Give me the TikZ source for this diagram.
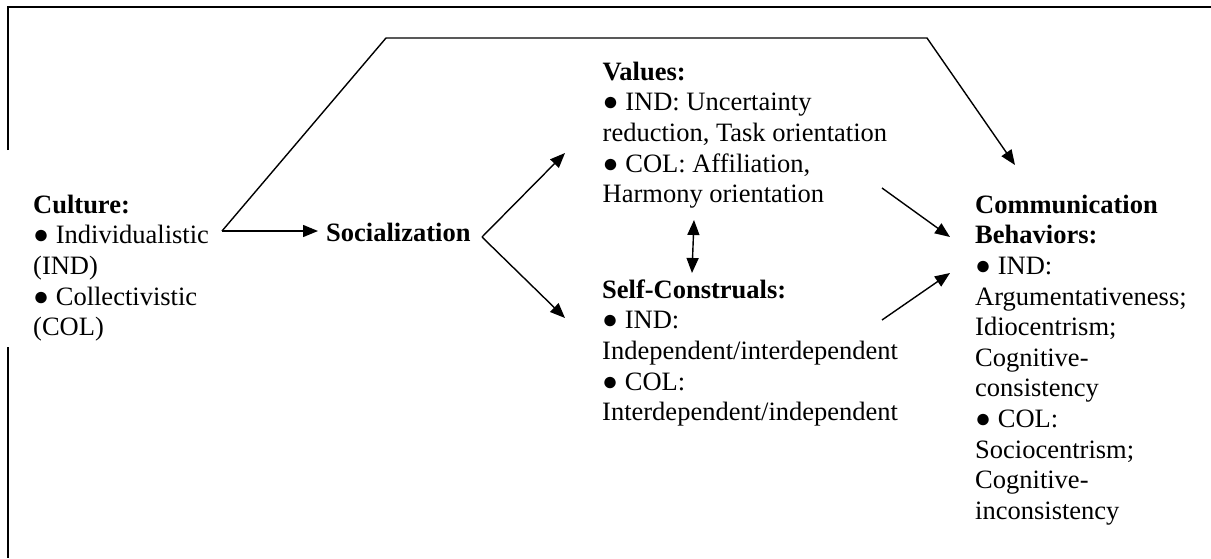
\documentclass[tikz,border=0pt]{standalone}
\usepackage{fontspec}
\setmainfont{Liberation Serif}
\usetikzlibrary{arrows.meta}
\begin{document}
\begin{tikzpicture}[x=1pt,y=-1pt,
  txt/.style={anchor=north west, inner sep=0pt, align=left, font=\fontsize{26.5}{30.6}\selectfont},
  arr/.style={line width=1.4pt, -{Triangle[length=15pt,width=12pt]}},
  dblarr/.style={line width=1.4pt, {Triangle[length=15pt,width=12pt]}-{Triangle[length=15pt,width=12pt]}},
  frameline/.style={line width=2pt}]
\useasboundingbox (0,0) rectangle (1211,558);
% frame
\draw[frameline] (8,150) -- (8,7) -- (1211,7);
\draw[frameline] (8,347) -- (8,558);
% text blocks
\node[txt] (culture) at (33,191.58) {\strut\textbf{Culture:}\\● Individualistic\\(IND)\\● Collectivistic\\(COL)};
\node[txt, anchor=base west] (soc) at (326,241) {\textbf{Socialization}};
\node[txt] (values) at (602.5,58.58) {\strut\textbf{Values:}\\● IND: Uncertainty\\reduction, Task orientation\\● COL: Affiliation,\\Harmony orientation};
\node[txt] (self) at (602,276.58) {\strut\textbf{Self-Construals:}\\● IND:\\Independent/interdependent\\● COL:\\Interdependent/independent};
\node[txt] (comm) at (975,191.58) {\strut\textbf{Communication}\\\textbf{Behaviors:}\\● IND:\\Argumentativeness;\\Idiocentrism;\\Cognitive-\\consistency\\● COL:\\Sociocentrism;\\Cognitive-\\inconsistency};
% connector end points
\coordinate (cultureOut) at (222,231);
\coordinate (socIn) at (318,231);
\coordinate (bendA) at (386,38);
\coordinate (bendB) at (927,38);
\coordinate (commTop) at (1015,165);
\coordinate (socOut) at (482,237);
\coordinate (valuesIn) at (565,153);
\coordinate (selfIn) at (565,318);
\coordinate (valuesBot) at (694,220);
\coordinate (selfTop) at (692,273);
\coordinate (valuesOut) at (882,188);
\coordinate (commIn1) at (950,237);
\coordinate (selfOut) at (882,320);
\coordinate (commIn2) at (950,273);
% connectors
\draw[arr] (cultureOut) -- (socIn);
\draw[arr] (cultureOut) -- (bendA) -- (bendB) -- (commTop);
\draw[arr] (socOut) -- (valuesIn);
\draw[arr] (socOut) -- (selfIn);
\draw[dblarr] (valuesBot) -- (selfTop);
\draw[arr] (valuesOut) -- (commIn1);
\draw[arr] (selfOut) -- (commIn2);
\end{tikzpicture}
\end{document}
